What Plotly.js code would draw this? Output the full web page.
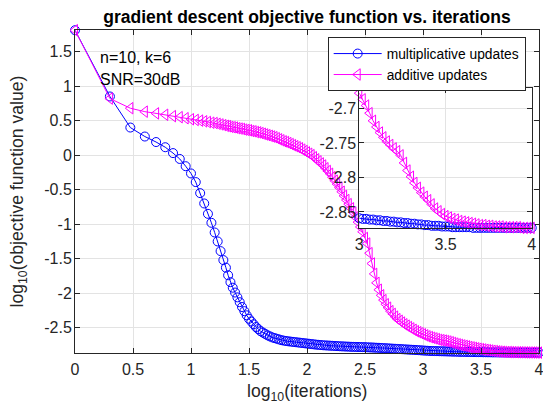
<!DOCTYPE html>
<html>
<head>
<meta charset="utf-8">
<script src="https://cdn.plot.ly/plotly-3.0.1.min.js"></script>
<style>html,body{margin:0;padding:0;background:#fff;}#chart{width:543px;height:409px;}</style>
</head>
<body>
<div id="chart"></div>
<script>
// x positions: log10(iterations)
const xLog = [
  0, 0.301, 0.477, 0.602, 0.699, 0.778, 0.845, 0.903, 0.954, 1.0,
  1.041, 1.079, 1.114, 1.146, 1.176, 1.204, 1.230, 1.255, 1.279, 1.301,
  1.32,1.34,1.36,1.38,1.40,1.42,1.44,1.46,1.48,1.50,
  1.52,1.54,1.56,1.58,1.60,1.62,1.64,1.66,1.68,1.70,
  1.72,1.74,1.76,1.78,1.80,1.82,1.84,1.86,1.88,1.90,
  1.92,1.94,1.96,1.98,2.00,2.02,2.04,2.06,2.08,2.10,
  2.12,2.14,2.16,2.18,2.20,2.22,2.24,2.26,2.28,2.30,
  2.32,2.34,2.36,2.38,2.40,2.42,2.44,2.46,2.48,2.50,
  2.52,2.54,2.56,2.58,2.60,2.62,2.64,2.66,2.68,2.70,
  2.72,2.74,2.76,2.78,2.80,2.82,2.84,2.86,2.88,2.90,
  2.92,2.94,2.96,2.98,3.00,3.02,3.04,3.06,3.08,3.10,
  3.12,3.14,3.16,3.18,3.20,3.22,3.24,3.26,3.28,3.30,
  3.32,3.34,3.36,3.38,3.40,3.42,3.44,3.46,3.48,3.50,
  3.52,3.54,3.56,3.58,3.60,3.62,3.64,3.66,3.68,3.70,
  3.72,3.74,3.76,3.78,3.80,3.82,3.84,3.86,3.88,3.90,
  3.92,3.94,3.96,3.98,4.00
];
// log10(objective) - multiplicative updates
const multY = [
  1.81, 0.85, 0.40, 0.27, 0.19, 0.115, 0.03, -0.055, -0.16, -0.265,
  -0.39, -0.55, -0.70, -0.85, -0.98, -1.12, -1.25, -1.39, -1.52, -1.63,
  -1.74,-1.84,-1.92,-1.99,-2.06,-2.13,-2.20,-2.26,-2.32,-2.37,
  -2.41,-2.45,-2.49,-2.52,-2.55,-2.57,-2.59,-2.61,-2.625,-2.64,
  -2.65,-2.66,-2.67,-2.68,-2.687,-2.692,-2.697,-2.701,-2.705,-2.709,
  -2.713,-2.717,-2.721,-2.725,-2.729,-2.733,-2.737,-2.741,-2.745,-2.748,
  -2.751,-2.754,-2.756,-2.758,-2.760,-2.762,-2.764,-2.766,-2.768,-2.770,
  -2.771,-2.773,-2.774,-2.776,-2.777,-2.778,-2.779,-2.780,-2.781,-2.782,
  -2.783,-2.785,-2.786,-2.788,-2.790,-2.791,-2.793,-2.795,-2.797,-2.799,
  -2.801,-2.803,-2.805,-2.807,-2.809,-2.811,-2.813,-2.815,-2.817,-2.819,
  -2.821,-2.823,-2.825,-2.827,-2.830,-2.832,-2.834,-2.836,-2.837,-2.838,
  -2.839,-2.840,-2.841,-2.842,-2.843,-2.844,-2.845,-2.846,-2.847,-2.848,
  -2.849,-2.850,-2.850,-2.851,-2.852,-2.852,-2.853,-2.853,-2.854,-2.854,
  -2.855,-2.855,-2.856,-2.856,-2.857,-2.857,-2.857,-2.858,-2.858,-2.858,
  -2.859,-2.859,-2.859,-2.859,-2.860,-2.860,-2.860,-2.860,-2.860,-2.861,
  -2.861,-2.861,-2.861,-2.861,-2.861
];
// log10(objective) - additive updates
const addY = [
  1.81, 0.82, 0.68, 0.63, 0.605, 0.585, 0.565, 0.55, 0.535, 0.52,
  0.51, 0.50, 0.49, 0.48, 0.47, 0.465, 0.455, 0.445, 0.435, 0.425,
  0.42,0.41,0.405,0.40,0.39,0.385,0.38,0.37,0.365,0.36,
  0.35,0.345,0.335,0.33,0.32,0.31,0.30,0.29,0.28,0.27,
  0.26,0.245,0.23,0.215,0.20,0.19,0.175,0.16,0.145,0.13,
  0.115,0.10,0.08,0.06,0.04,0.02,0.00,-0.03,-0.06,-0.09,
  -0.12,-0.15,-0.19,-0.23,-0.27,-0.32,-0.37,-0.42,-0.47,-0.53,
  -0.59,-0.65,-0.71,-0.77,-0.83,-0.90,-0.97,-1.04,-1.11,-1.20,
  -1.28,-1.42,-1.57,-1.72,-1.85,-1.95,-2.03,-2.10,-2.16,-2.21,
  -2.26,-2.30,-2.34,-2.375,-2.40,-2.425,-2.45,-2.47,-2.49,-2.51,
  -2.53,-2.55,-2.565,-2.58,-2.595,-2.61,-2.625,-2.635,-2.645,-2.655,
  -2.665,-2.675,-2.68,-2.686,-2.692,-2.70,-2.71,-2.72,-2.73,-2.74,
  -2.748,-2.756,-2.763,-2.77,-2.778,-2.785,-2.792,-2.798,-2.804,-2.81,
  -2.815,-2.82,-2.825,-2.83,-2.834,-2.838,-2.842,-2.845,-2.848,-2.85,
  -2.851,-2.852,-2.853,-2.854,-2.855,-2.855,-2.856,-2.857,-2.857,-2.858,
  -2.858,-2.859,-2.859,-2.860,-2.861
];
// inset (zoom on log10(iterations) in [3,4])
const insetX = [
  3.00,3.02,3.04,3.06,3.08,3.10,3.12,3.14,3.16,3.18,
  3.20,3.22,3.24,3.26,3.28,3.30,3.32,3.34,3.36,3.38,
  3.40,3.42,3.44,3.46,3.48,3.50,3.52,3.54,3.56,3.58,
  3.60,3.62,3.64,3.66,3.68,3.70,3.72,3.74,3.76,3.78,
  3.80,3.82,3.84,3.86,3.88,3.90,3.92,3.94,3.96,3.98,
  4.00
];
const insetMultY = [
  -2.859,-2.860,-2.860,-2.861,-2.861,-2.862,-2.862,-2.863,-2.863,-2.864,
  -2.864,-2.865,-2.865,-2.866,-2.866,-2.867,-2.867,-2.868,-2.868,-2.869,
  -2.869,-2.870,-2.870,-2.870,-2.871,-2.871,-2.871,-2.872,-2.872,-2.872,
  -2.872,-2.872,-2.872,-2.873,-2.873,-2.873,-2.873,-2.873,-2.873,-2.873,
  -2.873,-2.873,-2.873,-2.873,-2.873,-2.873,-2.873,-2.873,-2.873,-2.873,
  -2.873
];
const insetAddY = [
  -2.678,-2.687,-2.696,-2.707,-2.718,-2.727,-2.735,-2.742,-2.748,-2.753,
  -2.758,-2.762,-2.768,-2.779,-2.790,-2.799,-2.808,-2.815,-2.822,-2.828,
  -2.833,-2.839,-2.845,-2.849,-2.853,-2.856,-2.858,-2.860,-2.861,-2.863,
  -2.864,-2.865,-2.866,-2.867,-2.868,-2.869,-2.869,-2.870,-2.870,-2.871,
  -2.871,-2.871,-2.872,-2.872,-2.872,-2.872,-2.872,-2.873,-2.873,-2.873,
  -2.873
];
const seriesNames = ['multiplicative updates', 'additive updates'];
const mainXTicks = [0, 0.5, 1, 1.5, 2, 2.5, 3, 3.5, 4];
const mainXTickText = ['0', '0.5', '1', '1.5', '2', '2.5', '3', '3.5', '4'];
const mainYTicks = [-2.5, -2, -1.5, -1, -0.5, 0, 0.5, 1, 1.5];
const mainYTickText = ['-2.5', '-2', '-1.5', '-1', '-0.5', '0', '0.5', '1', '1.5'];
const insetXTicks = [3, 3.5, 4];
const insetXTickText = ['3', '3.5', '4'];
const insetYTicks = [-2.85, -2.8, -2.75, -2.7];
const insetYTickText = ['-2.85', '-2.8', '-2.75', '-2.7'];

const FONT = 'Liberation Sans, Arial, Helvetica, sans-serif';
const AX = '#262626';
const GRID = '#e3e3e3';
const BLUE = '#0000ff';
const MAG = '#ff00ff';

const traces = [
  {x: xLog, y: multY, name: seriesNames[0], type: 'scatter', mode: 'lines+markers',
   line: {color: BLUE, width: 1}, cliponaxis: false,
   marker: {symbol: 'circle-open', size: 9, color: BLUE, line: {color: BLUE, width: 1}}},
  {x: xLog, y: addY, name: seriesNames[1], type: 'scatter', mode: 'lines+markers',
   line: {color: MAG, width: 1}, cliponaxis: false,
   marker: {symbol: 'triangle-left-open', size: 10, color: MAG, line: {color: MAG, width: 1}}},
  {x: insetX, y: insetMultY, xaxis: 'x2', yaxis: 'y2', showlegend: false, type: 'scatter', mode: 'lines+markers',
   line: {color: BLUE, width: 1}, cliponaxis: false,
   marker: {symbol: 'circle-open', size: 9, color: BLUE, line: {color: BLUE, width: 1}}},
  {x: insetX, y: insetAddY, xaxis: 'x2', yaxis: 'y2', showlegend: false, type: 'scatter', mode: 'lines+markers',
   line: {color: MAG, width: 1}, cliponaxis: false,
   marker: {symbol: 'triangle-left-open', size: 10, color: MAG, line: {color: MAG, width: 1}}}
];

const axisCommon = {
  showline: true, linecolor: AX, linewidth: 1, mirror: 'ticks',
  ticks: 'inside', ticklen: 5, tickwidth: 1, tickcolor: AX,
  showgrid: true, gridcolor: GRID, gridwidth: 1, zeroline: false,
  ticklabeloverflow: 'allow',
  tickfont: {family: FONT, size: 16, color: AX}
};

const layout = {
  width: 543, height: 409,
  margin: {l: 75, r: 4, t: 30, b: 56, pad: 0},
  paper_bgcolor: '#ffffff', plot_bgcolor: '#ffffff',
  font: {family: FONT, color: AX},
  showlegend: true,
  title: {text: 'gradient descent objective function vs. iterations',
    font: {family: FONT, size: 17.5, weight: 'bold', color: '#000000'},
    x: 0.5, xref: 'paper', xanchor: 'center', y: 0.958, yref: 'container', yanchor: 'middle'},
  xaxis: Object.assign({}, axisCommon, {domain: [0, 1], range: [0, 4], tickvals: mainXTicks, ticktext: mainXTickText, anchor: 'y', ticklabelstandoff: 2}),
  yaxis: Object.assign({}, axisCommon, {domain: [0, 1], range: [-2.866, 1.813], tickvals: mainYTicks, ticktext: mainYTickText, anchor: 'x', ticklabelstandoff: -1}),
  xaxis2: Object.assign({}, axisCommon, {domain: [0.6127, 0.9843], range: [3, 4], tickvals: insetXTicks, ticktext: insetXTickText, anchor: 'y2', ticklabelstandoff: 2}),
  yaxis2: Object.assign({}, axisCommon, {domain: [0.3861, 0.8195], range: [-2.8736, -2.671], tickvals: insetYTicks, ticktext: insetYTickText, anchor: 'x2', ticklabelstandoff: -1}),
  legend: {x: 0.9713, xanchor: 'right', y: 0.978, yanchor: 'top', bgcolor: '#ffffff',
    bordercolor: AX, borderwidth: 1, itemwidth: 48,
    font: {family: FONT, size: 13.8, color: '#000000'}},
  annotations: [
    {text: 'n=10, k=6', xref: 'paper', yref: 'paper', x: 0.0495, y: 0.9164, xanchor: 'left', yanchor: 'middle',
     showarrow: false, font: {family: FONT, size: 16, color: '#000000'}},
    {text: 'SNR=30dB', xref: 'paper', yref: 'paper', x: 0.0495, y: 0.8467, xanchor: 'left', yanchor: 'middle',
     showarrow: false, font: {family: FONT, size: 16, color: '#000000'}},
    {text: 'log<sub>10</sub>(iterations)', xref: 'paper', yref: 'paper', x: 0.5, y: -0.1238, xanchor: 'center', yanchor: 'middle',
     showarrow: false, font: {family: FONT, size: 17.6, color: AX}},
    {text: 'log<sub>10</sub>(objective function value)', xref: 'paper', yref: 'paper', x: -0.1207, y: 0.5, xanchor: 'center', yanchor: 'middle',
     textangle: -90, showarrow: false, font: {family: FONT, size: 17.6, color: AX}}
  ]
};

Plotly.newPlot('chart', traces, layout, {displayModeBar: false, staticPlot: true});
</script>
</body>
</html>
